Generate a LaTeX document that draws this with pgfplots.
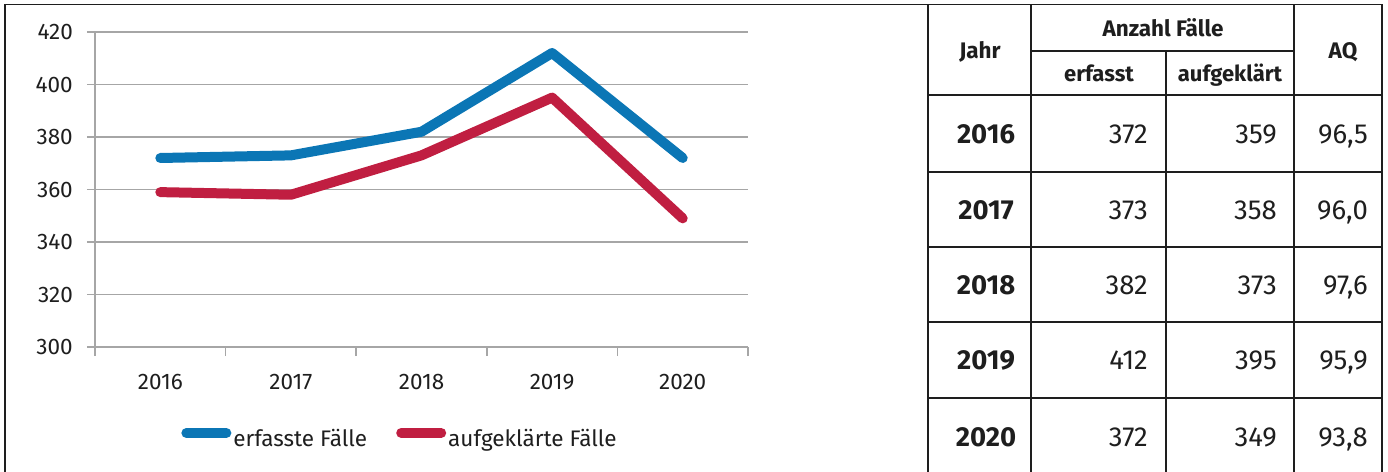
\documentclass[border=0pt]{standalone}
\usepackage{fontspec}
\setmainfont{Fira Sans}
\usepackage{pgfplots}
\pgfplotsset{compat=1.18}
\definecolor{cblue}{HTML}{0B76B5}
\definecolor{cred}{HTML}{C01E41}
\definecolor{cgrid}{HTML}{A6A6A6}
\definecolor{ctext}{HTML}{1E1E1E}
\begin{document}
\begin{tikzpicture}[x=1pt,y=1pt]
\useasboundingbox (0,0) rectangle (1388,471);
\begin{axis}[
  at={(95pt,124pt)}, anchor=south west,
  scale only axis, width=653pt, height=315pt,
  xmin=-0.5, xmax=4.5, ymin=300, ymax=420,
  xtick={0,...,4}, xticklabels={2016,2017,2018,2019,2020},
  major x tick style={draw=none},
  minor xtick={-0.5,0.5,1.5,2.5,3.5,4.5},
  ytick={300,320,...,420},
  ymajorgrids, grid style={cgrid, line width=1.5pt},
  tick align=outside,
  major tick length=8pt, minor tick length=9pt,
  tick style={cgrid, line width=1.5pt},
  axis x line*=bottom, axis y line*=left,
  axis line style={cgrid, line width=1.5pt, -},
  /pgf/number format/assume math mode=true,
  yticklabel style={font=\fontsize{22.5}{26}\selectfont, text=ctext, inner sep=0pt, xshift=-14pt},
  xticklabel style={font=\fontsize{22.5}{26}\selectfont, text=ctext, inner sep=0pt, anchor=base, yshift=-34pt},
  clip=false,
  legend columns=2,
  legend style={at={(0.120,-0.295)}, anchor=west, draw=none, fill=none, inner sep=0pt, outer sep=0pt,
    font=\fontsize{22.5}{26}\selectfont, text=ctext,
    nodes={inner sep=0pt}, cells={anchor=base},
    /tikz/every even column/.append style={column sep=21pt}},
  legend image code/.code={\path (0pt,0pt) (50pt,0pt); \draw[#1,line width=10pt,line cap=round] (8pt,14pt)--(48pt,14pt);},
]
\addplot[cblue, line width=10pt, line cap=round, line join=round] coordinates {(0,372)(1,373)(2,382)(3,412)(4,372)};
\addlegendentry{erfasste Fälle}
\addplot[cred, line width=10pt, line cap=round, line join=round] coordinates {(0,359)(1,358)(2,373)(3,395)(4,349)};
\addlegendentry{aufgeklärte Fälle}
\end{axis}
\begin{scope}[line width=1.8pt, draw=ctext]
\draw (5,-5) -- (5,466.5) -- (1382,466.5) -- (1382,-5);
\draw (928,466.5) -- (928,-5);
\draw (1031,466.5) -- (1031,-5);
\draw (1166,420) -- (1166,-5);
\draw (1294,466.5) -- (1294,-5);
\draw (1031,420) -- (1294,420);
\foreach \y in {376,299,224,149,73} \draw (928,\y) -- (1382,\y);
\end{scope}
\begin{scope}[every node/.style={inner sep=0pt, text=ctext}]
\node[anchor=base, font=\bfseries\fontsize{22.5}{26}\selectfont] at (980,412) {Jahr};
\node[anchor=base, font=\bfseries\fontsize{22.5}{26}\selectfont] at (1163,434) {Anzahl Fälle};
\node[anchor=base, font=\bfseries\fontsize{22.5}{26}\selectfont] at (1343,412) {AQ};
\node[anchor=base, font=\bfseries\fontsize{22}{26}\selectfont] at (1099,389) {erfasst};
\node[anchor=base, font=\bfseries\fontsize{22}{26}\selectfont] at (1230,389) {aufgeklärt};
\foreach \yy/\yr/\a/\b/\q in {327/2016/372/359/{96,5}, 251/2017/373/358/{96,0}, 176/2018/382/373/{97,6}, 101/2019/412/395/{95,9}, 25/2020/372/349/{93,8}} {
  \node[anchor=base, font=\bfseries\fontsize{27.5}{31}\selectfont] at (986,\yy) {\yr};
  \node[anchor=base east, font=\fontsize{27.5}{31}\selectfont] at (1148,\yy) {\a};
  \node[anchor=base east, font=\fontsize{27.5}{31}\selectfont] at (1277,\yy) {\b};
  \node[anchor=base east, font=\fontsize{27.5}{31}\selectfont] at (1368,\yy) {\q};
}
\end{scope}
\end{tikzpicture}
\end{document}
